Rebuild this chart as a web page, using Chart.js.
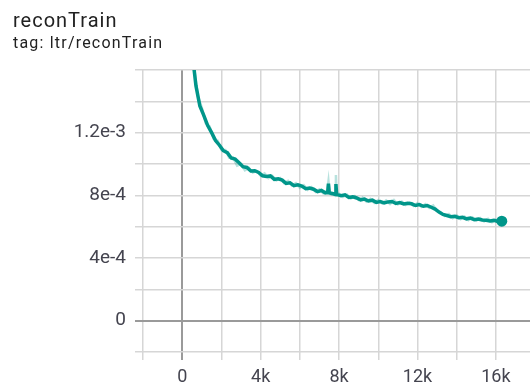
<!DOCTYPE html>
<html>
<head>
<meta charset="utf-8">
<script src="https://cdn.jsdelivr.net/npm/chart.js@4/dist/chart.umd.min.js"></script>
<style>
  html, body { margin: 0; padding: 0; background: #fff; }
  body { width: 530px; height: 391px; position: relative; overflow: hidden; font-family: Roboto, sans-serif; }
  #title { position: absolute; left: 13px; top: 10px; font-size: 20px; line-height: 1; letter-spacing: 1px; color: #212121; }
  #tag { position: absolute; left: 13px; top: 35px; font-size: 16px; line-height: 1; letter-spacing: 1.2px; color: #212121; }
  #wrap { position: absolute; left: 0; top: 0; width: 530px; height: 391px; }
</style>
</head>
<body>
<div id="wrap"><canvas id="chart"></canvas></div>
<div id="title">reconTrain</div>
<div id="tag">tag: ltr/reconTrain</div>
<script>
// ── Data ──────────────────────────────────────────────────────────────────────
const steps = [
    100, 300, 500, 700, 900, 1100, 1300, 1500, 1700, 1900,
    2100, 2300, 2500, 2700, 2900, 3100, 3300, 3500, 3700, 3900,
    4100, 4300, 4500, 4700, 4900, 5100, 5300, 5500, 5700, 5900,
    6100, 6300, 6500, 6700, 6900, 7100, 7300, 7420, 7460, 7500,
    7700, 7800, 7840, 7880, 8100, 8300, 8500, 8700, 8900, 9100,
    9300, 9500, 9700, 9900, 10100, 10300, 10500, 10700, 10900, 11100,
    11300, 11500, 11700, 11900, 12100, 12300, 12500, 12700, 12900, 13100,
    13300, 13500, 13700, 13900, 14100, 14300, 14500, 14700, 14900, 15100,
    15300, 15500, 15700, 15900, 16100, 16300
];
// smoothed curve, values in units of 1e-3
const reconTrain = [
    4.0, 2.2, 1.72, 1.50, 1.37, 1.31, 1.245, 1.20, 1.15, 1.12,
    1.085, 1.072, 1.038, 1.031, 1.008, 0.983, 0.978, 0.955, 0.957, 0.946,
    0.925, 0.921, 0.924, 0.902, 0.905, 0.897, 0.876, 0.880, 0.862, 0.867,
    0.859, 0.842, 0.847, 0.839, 0.824, 0.831, 0.816, 0.818, 0.874, 0.816,
    0.810, 0.806, 0.872, 0.806, 0.798, 0.803, 0.786, 0.790, 0.783, 0.771,
    0.776, 0.764, 0.769, 0.755, 0.760, 0.752, 0.758, 0.761, 0.748, 0.754,
    0.745, 0.750, 0.746, 0.735, 0.741, 0.730, 0.735, 0.724, 0.712, 0.693,
    0.678, 0.671, 0.664, 0.666, 0.657, 0.660, 0.650, 0.655, 0.645, 0.649,
    0.643, 0.641, 0.637, 0.640, 0.633, 0.635
];
// faint raw series behind it
const rawSteps = [
    200, 400, 600, 800, 1000, 1200, 1400, 1600, 1800, 2000,
    2200, 2400, 2600, 2800, 3000, 3200, 3400, 3600, 3800, 4000,
    4200, 4400, 4600, 4800, 5000, 5200, 5400, 5600, 5800, 6000,
    6200, 6400, 6600, 6800, 7000, 7200, 7400, 7460, 7520, 7600,
    7800, 7840, 7880, 8000, 8200, 8400, 8600, 8800, 9000, 9200,
    9400, 9600, 9800, 10000, 10200, 10400, 10600, 10800, 11000, 11200,
    11400, 11600, 11800, 12000, 12200, 12400, 12600, 12800, 13000, 13200,
    13400, 13600, 13800, 14000, 14200, 14400, 14600, 14800, 15000, 15200,
    15400, 15600, 15800, 16000, 16200
];
const reconTrainRaw = [
    3.0, 1.95, 1.62, 1.43, 1.36, 1.26, 1.24, 1.16, 1.15, 1.09,
    1.09, 1.04, 1.04, 0.99, 1.00, 0.96, 0.975, 0.945, 0.955, 0.925,
    0.94, 0.91, 0.925, 0.895, 0.91, 0.878, 0.892, 0.862, 0.878, 0.848,
    0.865, 0.835, 0.852, 0.822, 0.838, 0.812, 0.83, 0.89, 0.81, 0.805,
    0.81, 0.93, 0.80, 0.81, 0.79, 0.805, 0.78, 0.795, 0.77, 0.785,
    0.76, 0.778, 0.752, 0.77, 0.748, 0.768, 0.745, 0.77, 0.742, 0.76,
    0.738, 0.754, 0.732, 0.75, 0.726, 0.744, 0.72, 0.735, 0.70, 0.69,
    0.668, 0.68, 0.655, 0.672, 0.648, 0.665, 0.642, 0.66, 0.638, 0.655,
    0.633, 0.65, 0.628, 0.645, 0.63
];

// grid lines every 2k steps / 2e-4, labels on every other one
const xGrid = [-2000, 0, 2000, 4000, 6000, 8000, 10000, 12000, 14000, 16000];
const xTickValues = [0, 4000, 8000, 12000, 16000];
const xTickLabels = ['0', '4k', '8k', '12k', '16k'];
const yGrid = [-2e-4, 0, 2e-4, 4e-4, 6e-4, 8e-4, 1e-3, 1.2e-3, 1.4e-3, 1.6e-3];
const yTickValues = [0, 4e-4, 8e-4, 1.2e-3];
const yTickLabels = ['0', '4e-4', '8e-4', '1.2e-3'];

const TEAL = '#00968a';
const TEAL_FAINT = 'rgba(0, 150, 138, 0.28)';
const GRID = '#d6d6d6';
const ZERO = '#9a9a9a';
const TICK_TEXT = '#44444f';

const pickLabel = (v, values, labels, tol) => {
    const i = values.findIndex(t => Math.abs(t - v) < tol);
    return i >= 0 ? labels[i] : '';
};
const isZero = (c) => c.tick && Math.abs(c.tick.value) < 1e-9;

const points = steps.map((s, i) => ({ x: s, y: reconTrain[i] * 1e-3 }));
const rawPoints = rawSteps.map((s, i) => ({ x: s, y: reconTrainRaw[i] * 1e-3 }));
const lastIdx = points.length - 1;

new Chart(document.getElementById('chart'), {
    type: 'line',
    data: {
        datasets: [{
            data: points,
            borderColor: TEAL,
            backgroundColor: TEAL,
            borderWidth: 3.5,
            tension: 0,
            pointRadius: (ctx) => ctx.dataIndex === lastIdx ? 5.5 : 0,
            pointBorderWidth: 0,
            pointHoverRadius: 0,
        }, {
            data: rawPoints,
            borderColor: TEAL_FAINT,
            borderWidth: 2.5,
            tension: 0,
            pointRadius: 0,
            pointHoverRadius: 0,
        }]
    },
    options: {
        responsive: true,
        maintainAspectRatio: false,
        animation: false,
        layout: { autoPadding: false, padding: { top: 70, right: 0, left: 0, bottom: 0 } },
        plugins: {
            legend: { display: false },
            tooltip: { enabled: false }
        },
        scales: {
            x: {
                type: 'linear',
                min: -2000,
                max: 17740,
                afterFit: (s) => { s.height = 39; s.paddingRight = 0; s.paddingLeft = 0; },
                afterBuildTicks: (s) => { s.ticks = xGrid.map(v => ({ value: v })); },
                ticks: {
                    autoSkip: false,
                    maxRotation: 0,
                    padding: 7,
                    color: TICK_TEXT,
                    font: { family: 'Roboto', size: 18 },
                    callback: (v) => pickLabel(v, xTickValues, xTickLabels, 1)
                },
                grid: {
                    color: (c) => isZero(c) ? ZERO : GRID,
                    lineWidth: (c) => isZero(c) ? 2 : 1.5,
                    tickLength: 8,
                },
                border: { display: false }
            },
            y: {
                min: -2e-4,
                max: 1.6e-3,
                afterFit: (s) => { s.width = 143; s.paddingTop = 0; s.paddingBottom = 0; },
                afterBuildTicks: (s) => { s.ticks = yGrid.map(v => ({ value: v })); },
                ticks: {
                    autoSkip: false,
                    padding: 9,
                    color: TICK_TEXT,
                    font: { family: 'Roboto', size: 19 },
                    callback: (v) => pickLabel(v, yTickValues, yTickLabels, 1e-9)
                },
                grid: {
                    color: (c) => isZero(c) ? ZERO : GRID,
                    lineWidth: (c) => isZero(c) ? 2 : 1.5,
                    tickLength: 8,
                },
                border: { display: false }
            }
        }
    }
});
</script>
</body>
</html>
